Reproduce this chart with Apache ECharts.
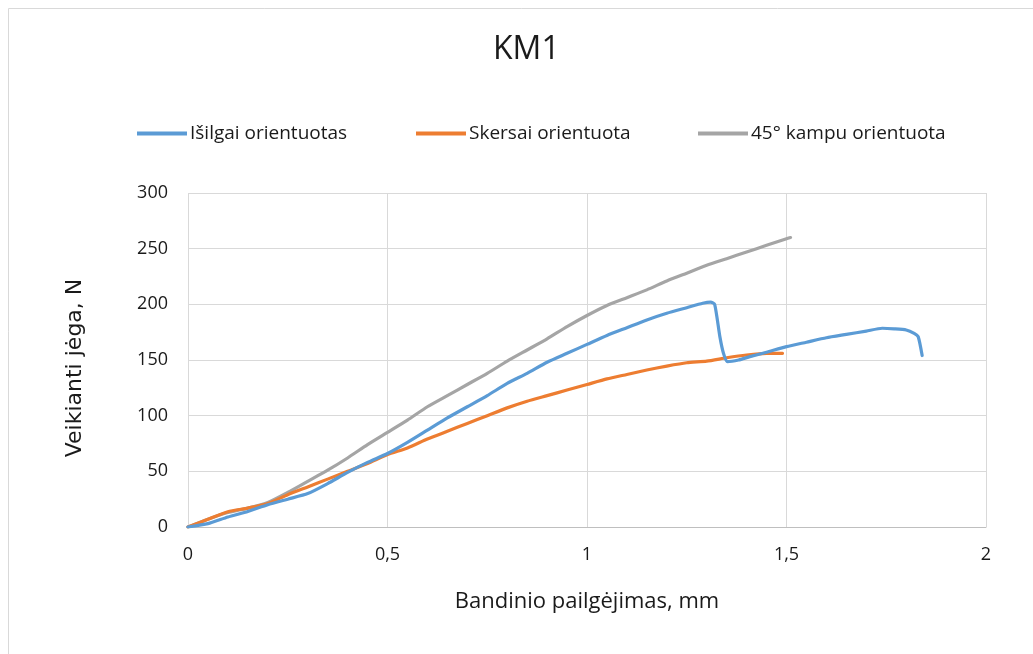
<!DOCTYPE html>
<html><head><meta charset="utf-8">
<script src="https://cdn.jsdelivr.net/npm/echarts@6/dist/echarts.min.js"></script>
<style>html,body{margin:0;padding:0;background:#fff}#c{width:1033px;height:654px}</style>
</head><body><div id="c"></div>
<script>
const title = 'KM1';
const yAxisTitle = 'Veikianti jėga, N';
const xAxisTitle = 'Bandinio pailgėjimas, mm';
const seriesNames = ['Išilgai orientuotas', 'Skersai orientuota', '45° kampu orientuota'];
const xTicks = [0, 0.5, 1, 1.5, 2];
const yTicks = [0, 50, 100, 150, 200, 250, 300];
const blueData = [[0,0],[0.05,3],[0.1,9],[0.15,14],[0.2,20],[0.25,25],[0.3,30],[0.35,39],[0.4,49],[0.45,58],[0.5,66],[0.55,76],[0.6,87],[0.65,98],[0.7,108],[0.75,118],[0.8,129],[0.85,138],[0.9,148],[0.95,156],[1.0,164],[1.05,172],[1.1,179],[1.15,186],[1.2,192],[1.25,197],[1.29,201],[1.31,202],[1.32,200],[1.333,171],[1.342,156],[1.352,148.5],[1.38,150],[1.408,153],[1.45,157],[1.5,162],[1.55,166],[1.6,170],[1.65,173],[1.7,176],[1.74,178.5],[1.77,178],[1.8,177],[1.82,174],[1.83,171],[1.84,154]];
const orangeData = [[0,0],[0.05,7],[0.1,13.7],[0.15,17],[0.2,21],[0.25,29],[0.3,36],[0.35,43],[0.4,50],[0.45,57],[0.5,65],[0.55,71],[0.6,79],[0.65,86],[0.7,93],[0.75,100],[0.8,107],[0.85,113],[0.9,118],[0.95,123],[1.0,128],[1.05,133],[1.1,137],[1.15,141],[1.2,144.5],[1.25,147.5],[1.3,149],[1.35,152],[1.4,154.5],[1.45,156],[1.49,156]];
const grayData = [[0,0],[0.05,7],[0.1,13],[0.15,17],[0.2,22],[0.25,31],[0.3,41],[0.35,51],[0.4,62],[0.45,74],[0.5,85],[0.55,96],[0.6,108],[0.65,118],[0.7,128],[0.75,138],[0.8,149],[0.85,159],[0.9,169],[0.95,180],[1.0,190],[1.05,199],[1.1,206],[1.15,213],[1.2,221],[1.25,228],[1.3,235],[1.35,241],[1.4,247],[1.45,253],[1.5,259],[1.51,260]];

const FONT = "'Open Sans', sans-serif";
const chart = echarts.init(document.getElementById('c'), null, {renderer: 'canvas'});
const colors = ['#5B9BD5', '#ED7D31', '#A5A5A5'];
const datas = [blueData, orangeData, grayData];
const legendLefts = [137, 416, 698];
chart.setOption({
  animation: false,
  color: colors,
  graphic: [
    {type: 'rect', shape: {x: 8.5, y: 8.5, width: 1100, height: 700}, style: {fill: 'none', stroke: '#d9d9d9', lineWidth: 1}, silent: true},
    {type: 'text', x: 75, y: 368, rotation: Math.PI / 2, silent: true,
      style: {text: yAxisTitle, fill: '#1a1a1a', font: "22px 'DejaVu Sans', Verdana, sans-serif", textAlign: 'center', textVerticalAlign: 'middle'}}
  ],
  title: {text: title, left: 488, top: 29, textStyle: {fontFamily: FONT, fontSize: 32, fontWeight: 'normal', color: '#1a1a1a'}},
  legend: seriesNames.map((n, i) => ({
    top: 124, left: legendLefts[i], itemWidth: 50, itemHeight: 4, icon: 'rect', padding: 0,
    textStyle: {fontFamily: FONT, fontSize: 19, color: '#1a1a1a', padding: [0, 0, 0, -2]},
    data: [n]
  })),
  grid: {left: 188, right: 47, top: 193, bottom: 127},
  xAxis: {
    type: 'value', min: 0, max: 2, interval: 0.5,
    name: xAxisTitle, nameLocation: 'middle', nameGap: 64,
    nameTextStyle: {fontFamily: FONT, fontSize: 22, color: '#1a1a1a'},
    axisLine: {show: true, lineStyle: {color: '#bfbfbf', width: 1}},
    axisTick: {show: false},
    splitLine: {show: true, lineStyle: {color: '#d9d9d9', width: 1}},
    axisLabel: {fontFamily: FONT, fontSize: 18, color: '#1a1a1a', margin: 19,
      formatter: v => xTicks.includes(v) ? String(v).replace('.', ',') : ''}
  },
  yAxis: {
    type: 'value', min: 0, max: 300, interval: 50,
    axisLine: {show: false}, axisTick: {show: false},
    splitLine: {show: true, lineStyle: {color: '#d9d9d9', width: 1}},
    axisLabel: {fontFamily: FONT, fontSize: 18, color: '#1a1a1a', margin: 20,
      formatter: v => yTicks.includes(v) ? String(v) : ''}
  },
  series: seriesNames.map((n, i) => ({
    name: n, type: 'line', data: datas[i], showSymbol: false, symbol: 'none',
    smooth: 0.2,
    lineStyle: {width: 3.2, color: colors[i], cap: 'round', join: 'round'}, z: 5 - i
  }))
});
</script></body></html>
